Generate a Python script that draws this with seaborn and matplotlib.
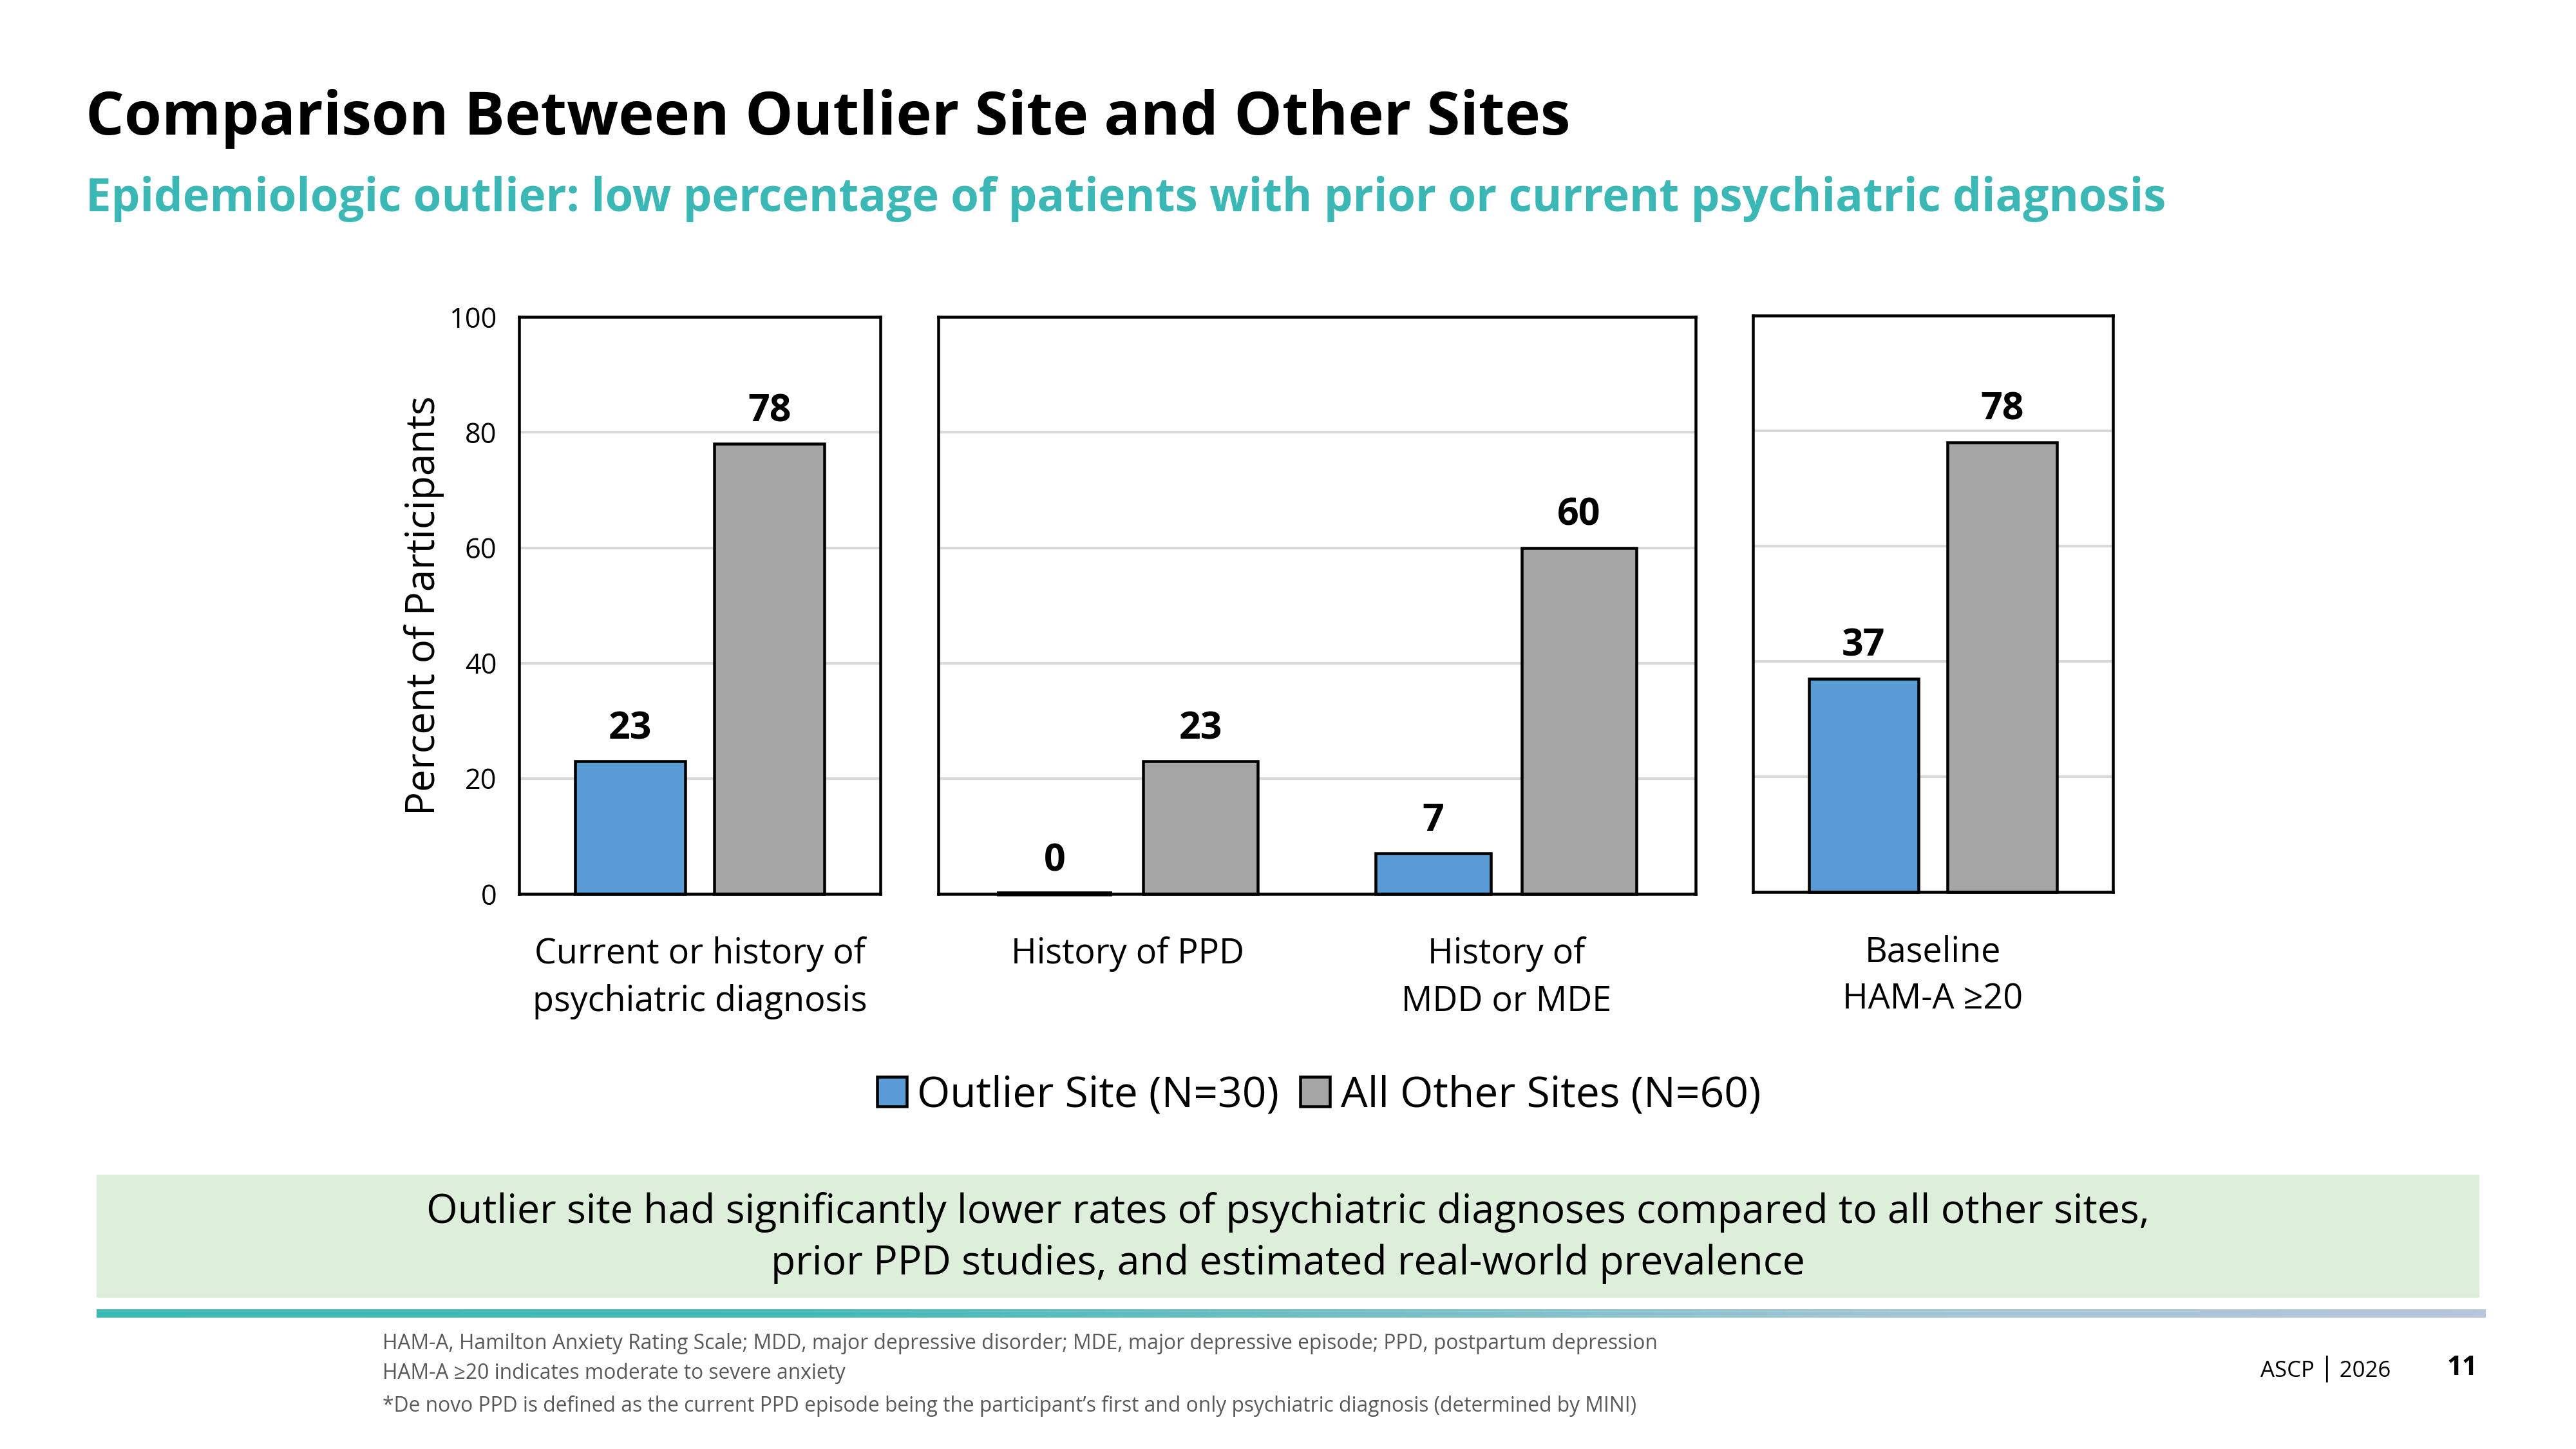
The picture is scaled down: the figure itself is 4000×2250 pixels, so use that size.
import numpy as np
import pandas as pd
import matplotlib
matplotlib.use("Agg")
import matplotlib.pyplot as plt
from matplotlib.patches import Rectangle, Patch
from matplotlib.colors import LinearSegmentedColormap
import seaborn as sns

# data
categories = ["Current or history of\npsychiatric diagnosis", "History of PPD",
              "History of\nMDD or MDE", "Baseline\nHAM-A \u226520"]
panel_of = [0, 1, 1, 2]
outlier_site = [23, 0, 7, 37]
other_sites = [78, 23, 60, 78]
site_names = ["Outlier Site (N=30)", "All Other Sites (N=60)"]
y_ticks = [0, 20, 40, 60, 80, 100]

blue = "#5B9BD5"
grey = "#A5A5A5"
teal = "#3BB8B5"

df = pd.DataFrame({
    "category": categories * 2,
    "panel": panel_of * 2,
    "site": [site_names[0]] * 4 + [site_names[1]] * 4,
    "value": outlier_site + other_sites,
})

sns.set_theme(style="white")
plt.rcParams["font.family"] = ["Open Sans", "DejaVu Sans"]
plt.rcParams["text.color"] = "black"
plt.rcParams["axes.labelcolor"] = "black"

fig = plt.figure(figsize=(16, 9), dpi=250)

positions = [
    [0.2015, 0.3832, 0.1403, 0.398],
    [0.3642, 0.3832, 0.2940, 0.398],
    [0.6805, 0.3844, 0.1397, 0.398],
]

for i, pos in enumerate(positions):
    ax = fig.add_axes(pos)
    sub = df[df["panel"] == i]
    sns.barplot(data=sub, x="category", y="value", hue="site",
                hue_order=site_names, palette=[blue, grey], saturation=1,
                edgecolor="black", linewidth=1.3, width=0.77, gap=0.21,
                legend=False, ax=ax)
    n = sub["category"].nunique()
    ax.set_xlim(-0.5, n - 0.5)
    ax.set_ylim(0, 100)
    ax.set_yticks(y_ticks)
    ax.yaxis.grid(True, color="#D9D9D9", linewidth=1.2)
    ax.set_axisbelow(True)
    for s in ax.spines.values():
        s.set_visible(True)
        s.set_color("black")
        s.set_linewidth(1.3)
    ax.set_xlabel("")
    ax.tick_params(axis="x", length=0, pad=19, labelsize=15.5, colors="black")
    ax.tick_params(axis="y", length=0, pad=10, labelsize=12.5, colors="black")
    for lab in ax.get_xticklabels():
        lab.set_linespacing(1.45)
    if i == 0:
        ax.set_ylabel("Percent of Participants", fontsize=17.8, labelpad=2)
    else:
        ax.set_ylabel("")
        ax.set_yticklabels([])
    for c in ax.containers:
        for bar in c:
            bar.set_clip_on(False)
            if bar.get_height() == 0:
                # the zero bar shows as a thick black stroke on the baseline
                bar.set_linewidth(2.2)
                bar.set_zorder(5)
        ax.bar_label(c, fmt="%d", padding=6, fontsize=17, fontweight="bold")

handles = [Patch(facecolor=blue, edgecolor="black", linewidth=1.3),
           Patch(facecolor=grey, edgecolor="black", linewidth=1.3)]
fig.legend(handles, site_names, loc="center", bbox_to_anchor=(0.512, 0.2438),
           ncol=2, frameon=False, fontsize=19, handlelength=0.7,
           handleheight=0.7, handletextpad=0.25, columnspacing=0.5)

# titles
fig.text(0.0332, 0.918, "Comparison Between Outlier Site and Other Sites",
         fontsize=27, fontweight="bold", va="center", ha="left")
fig.text(0.0332, 0.8628, "Epidemiologic outlier: low percentage of patients with prior or current psychiatric diagnosis",
         fontsize=20.4, fontweight="bold", color=teal, va="center", ha="left")

# takeaway box
fig.patches.append(Rectangle((0.0376, 0.1043), 0.9248, 0.085,
                             transform=fig.transFigure, facecolor="#DDEEDA",
                             edgecolor="none", zorder=0))
fig.text(0.5, 0.1455, "Outlier site had significantly lower rates of psychiatric diagnoses compared to all other sites,\nprior PPD studies, and estimated real-world prevalence",
         fontsize=18, ha="center", va="center", linespacing=1.38)

# gradient rule
gax = fig.add_axes([0.0376, 0.0907, 0.9274, 0.0057])
cmap = LinearSegmentedColormap.from_list(
    "rule", [(0, "#3DB9B5"), (0.3, "#45BAB7"), (0.75, "#A2C5D3"), (1, "#B7C6DA")])
gax.imshow(np.linspace(0, 1, 512)[None, :], aspect="auto", cmap=cmap)
gax.axis("off")

# footnotes
notes = [
    "HAM-A, Hamilton Anxiety Rating Scale; MDD, major depressive disorder; MDE, major depressive episode; PPD, postpartum depression",
    "HAM-A \u226520 indicates moderate to severe anxiety",
    "*De novo PPD is defined as the current PPD episode being the participant\u2019s first and only psychiatric diagnosis (determined by MINI)",
]
for y, t in zip([0.0726, 0.0522, 0.0295], notes):
    fig.text(0.1486, y, t, fontsize=9.15, color="#595959", va="center", ha="left")

fig.text(0.928, 0.0556, "ASCP \u2502 2026", fontsize=10, ha="right", va="center")
fig.text(0.9617, 0.0556, "11", fontsize=12, fontweight="bold", ha="right", va="center")

fig.savefig("out.png", dpi=250, facecolor="white")
